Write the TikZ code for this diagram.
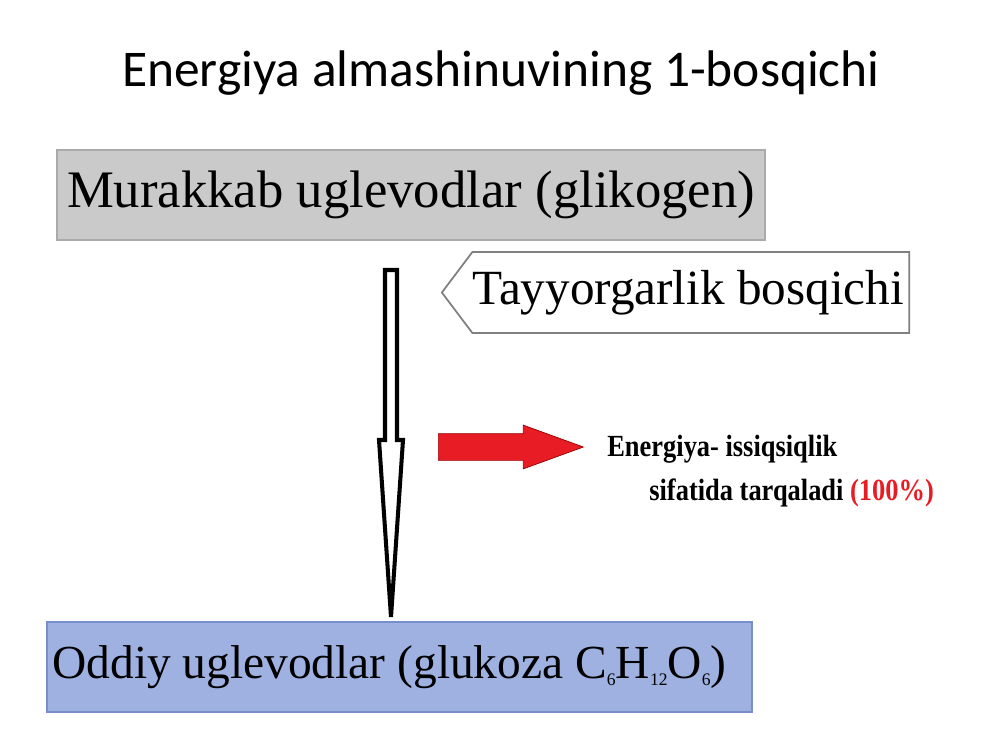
\documentclass[tikz,border=0pt]{standalone}
\usepackage{fontspec}
\setmainfont{Liberation Serif}
\newfontfamily\titlefont{Carlito}
\usetikzlibrary{shapes.arrows,shapes.symbols}

\definecolor{boxgray}{RGB}{202,202,202}
\definecolor{linegray}{RGB}{170,170,170}
\definecolor{boxblue}{RGB}{158,177,225}
\definecolor{lineblue}{RGB}{120,142,200}
\definecolor{arrowred}{RGB}{232,28,36}
\newcommand{\lowsub}[1]{\raisebox{-4pt}{\fontsize{10}{10}\selectfont #1}}

\begin{document}
\begin{tikzpicture}[x=0.02cm,y=-0.02cm]
\path[use as bounding box] (0,0) rectangle (1000,750);

\node[font=\titlefont\fontsize{29.3}{34}\selectfont] (v0) at (501,73) {Energiya almashinuvining 1-bosqichi};
\node[fill=boxgray, draw=linegray, line width=0.8pt, minimum width=14.16cm, minimum height=1.8cm, font=\fontsize{30}{34}\selectfont] (v1) at (411,195) {Murakkab uglevodlar (glikogen)};
\node[signal, signal to=west, signal from=nowhere, signal pointer angle=106, draw=gray, line width=1pt, fill=white, minimum height=1.62cm, inner xsep=0pt, anchor=east, font=\fontsize{28}{32}\selectfont] (v2) at (910,292.5) {Tayyorgarlik bosqichi\kern3pt};

\draw[line width=2.3pt, fill=white] (385,270) -- (397,270) -- (397,440) -- (403,440) -- (391,617) -- (379,440) -- (385,440) -- cycle;

\node[single arrow, fill=arrowred, draw=red!60!black, line width=0.4pt, minimum height=2.9cm, minimum width=0.86cm, single arrow head extend=0.17cm, single arrow tip angle=40, inner xsep=0pt, inner ysep=0.26cm, anchor=tail] (v3) at (438,447) {};
\node[anchor=base west, inner sep=0pt, font=\bfseries\fontsize{17.5}{20}\selectfont] (v4) at (607,456) {\scalebox{0.86}[1]{Energiya- issiqsiqlik}};
\node[anchor=base west, inner sep=0pt, font=\bfseries\fontsize{17.5}{20}\selectfont] (v5) at (649,500) {\scalebox{0.86}[1]{sifatida tarqaladi \textcolor{arrowred}{(100\%)}}};

\node[fill=boxblue, draw=lineblue, line width=0.8pt, minimum width=14.1cm, minimum height=1.8cm] (v6) at (399.5,667) {};
\node[anchor=west, inner sep=0pt, font=\fontsize{27}{32}\selectfont] (v7) at (52,667) {Oddiy uglevodlar (glukoza C\lowsub{6}H\lowsub{12}O\lowsub{6})};
\end{tikzpicture}
\end{document}
